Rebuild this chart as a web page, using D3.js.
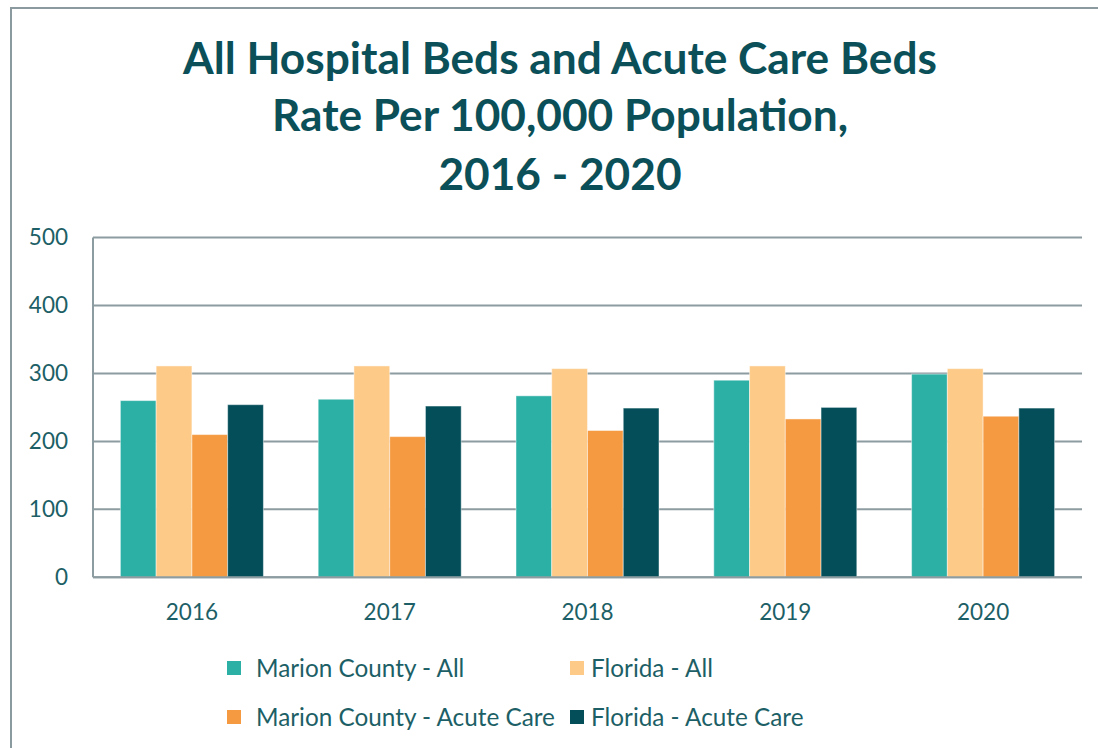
<!DOCTYPE html>
<html>
<head>
<meta charset="utf-8">
<script src="https://cdn.jsdelivr.net/npm/d3@7/dist/d3.min.js"></script>
<style>
  html, body { margin: 0; padding: 0; background: #fff; }
  svg { display: block; font-family: Lato, "Open Sans", sans-serif; }
</style>
</head>
<body>
<svg id="chart" width="1098" height="748"></svg>
<script>
// ---- data ----
const years = ['2016', '2017', '2018', '2019', '2020'];
const seriesNames = ['Marion County - All', 'Florida - All', 'Marion County - Acute Care', 'Florida - Acute Care'];
const marionAll = [260, 262, 267, 290, 299];
const floridaAll = [311, 311, 307, 311, 307];
const marionAcute = [210, 207, 216, 233, 237];
const floridaAcute = [254, 252, 249, 250, 249];
const yTicks = [0, 100, 200, 300, 400, 500];
const titleLines = ['All Hospital Beds and Acute Care Beds', 'Rate Per 100,000 Population,', '2016 - 2020'];

const colors = ['#2cb0a5', '#fdca88', '#f59a40', '#034e59'];
const seriesValues = [marionAll, floridaAll, marionAcute, floridaAcute];
const textColor = '#1d5f66';

const svg = d3.select('#chart');

// outer frame
svg.append('rect')
  .attr('x', 11).attr('y', 8)
  .attr('width', 1120).attr('height', 760)
  .attr('fill', 'none')
  .attr('stroke', '#8a9a9e')
  .attr('stroke-width', 2);

// ---- title ----
const title = svg.append('g');
const titleY = [74, 131, 190];
titleLines.forEach((line, i) => {
  title.append('text')
    .attr('x', 560).attr('y', titleY[i])
    .attr('text-anchor', 'middle')
    .attr('font-weight', 700)
    .attr('font-size', 40)
    .attr('fill', '#0b5058')
    .text(line);
});
// fit first line to reference width
const firstW = title.select('text').node().getComputedTextLength();
const titleSize = 40 * 754 / firstW;
title.selectAll('text').attr('font-size', titleSize);

// ---- scales ----
const plot = { left: 93, right: 1082, top: 237.5, bottom: 577.3 };

const x = d3.scaleBand()
  .domain(years)
  .range([plot.left, plot.right])
  .paddingInner(0.277)
  .paddingOuter(0.1385);

const xSub = d3.scaleBand()
  .domain(seriesNames)
  .range([0, x.bandwidth()]);

const y = d3.scaleLinear()
  .domain([0, 500])
  .range([plot.bottom, plot.top]);

// gridlines
svg.append('g')
  .selectAll('line')
  .data(yTicks)
  .join('line')
  .attr('x1', plot.left).attr('x2', plot.right)
  .attr('y1', d => y(d)).attr('y2', d => y(d))
  .attr('stroke', '#8c9ca1')
  .attr('stroke-width', 2);

// y axis line
svg.append('line')
  .attr('x1', plot.left).attr('x2', plot.left)
  .attr('y1', y(500)).attr('y2', y(0))
  .attr('stroke', '#8c9ca1')
  .attr('stroke-width', 2);

// y tick labels
svg.append('g')
  .selectAll('text')
  .data(yTicks)
  .join('text')
  .attr('x', 68)
  .attr('y', d => y(d))
  .attr('dy', '0.35em')
  .attr('text-anchor', 'end')
  .attr('font-size', 22.5)
  .attr('fill', textColor)
  .text(d => d);

// ---- bars ----
const rows = years.map((yr, i) => ({
  year: yr,
  values: seriesNames.map((s, k) => ({ series: s, k, value: seriesValues[k][i] }))
}));

svg.append('g')
  .selectAll('g')
  .data(rows)
  .join('g')
  .attr('transform', d => `translate(${x(d.year)},0)`)
  .selectAll('rect')
  .data(d => d.values)
  .join('rect')
  .attr('x', d => xSub(d.series))
  .attr('width', xSub.bandwidth())
  .attr('y', d => y(d.value))
  .attr('height', d => y(0) - y(d.value))
  .attr('fill', d => colors[d.k])
  .attr('stroke', 'rgba(255,255,255,0.45)')
  .attr('stroke-width', 1);

// x axis line on top of bars
svg.append('line')
  .attr('x1', plot.left).attr('x2', plot.right)
  .attr('y1', y(0)).attr('y2', y(0))
  .attr('stroke', '#8c9ca1')
  .attr('stroke-width', 2);

// x labels
svg.append('g')
  .selectAll('text')
  .data(years)
  .join('text')
  .attr('x', d => x(d) + x.bandwidth() / 2)
  .attr('y', 620)
  .attr('text-anchor', 'middle')
  .attr('font-size', 22.5)
  .attr('fill', textColor)
  .text(d => d);

// ---- legend ----
const legendPos = [
  { sx: 227, tx: 256, cy: 668 },
  { sx: 570, tx: 591, cy: 668 },
  { sx: 227, tx: 256, cy: 717 },
  { sx: 570, tx: 591, cy: 717 }
];
const legend = svg.append('g')
  .selectAll('g')
  .data(seriesNames)
  .join('g');

legend.append('rect')
  .attr('x', (d, i) => legendPos[i].sx)
  .attr('y', (d, i) => legendPos[i].cy - 7)
  .attr('width', 14).attr('height', 14)
  .attr('fill', (d, i) => colors[i]);

legend.append('text')
  .attr('x', (d, i) => legendPos[i].tx)
  .attr('y', (d, i) => legendPos[i].cy)
  .attr('dy', '0.35em')
  .attr('font-size', 24.3)
  .attr('fill', textColor)
  .text(d => d);
</script>
</body>
</html>
